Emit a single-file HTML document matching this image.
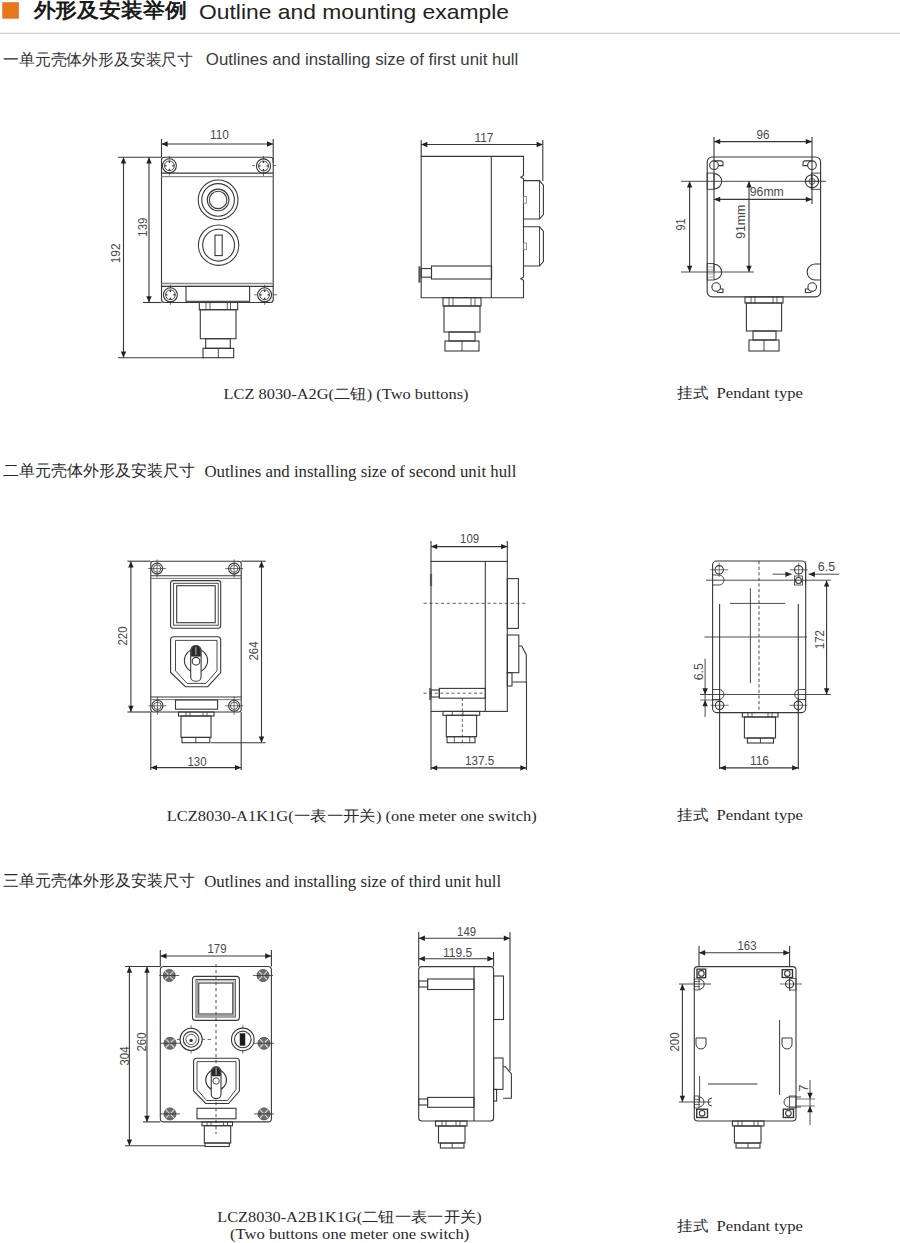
<!DOCTYPE html>
<html><head><meta charset="utf-8"><title>Outline and mounting example</title>
<style>html,body{margin:0;padding:0;background:#fff;}body{width:900px;height:1243px;overflow:hidden;position:relative;font-family:"Liberation Sans",sans-serif;}svg{position:absolute;left:0;top:0;display:block;}</style>
</head><body>
<svg width="900" height="1243" viewBox="0 0 900 1243">
<rect x="2.2" y="2.2" width="16.7" height="16.5" fill="#E8761E"/>
<text x="33.5" y="17.2" font-family="Liberation Sans" font-size="19.5" text-anchor="start" fill="#1a1a1a" font-weight="bold" textLength="153" lengthAdjust="spacingAndGlyphs">外形及安装举例</text>
<text x="199" y="19" font-family="Liberation Sans" font-size="21" text-anchor="start" fill="#222" font-weight="normal" textLength="310" lengthAdjust="spacingAndGlyphs">Outline and mounting example</text>
<rect x="0" y="32.7" width="900" height="1.3" fill="#d0d0d0"/>
<text x="3" y="65.3" font-family="Liberation Sans" font-size="15.5" text-anchor="start" fill="#333" font-weight="normal" textLength="190" lengthAdjust="spacingAndGlyphs">一单元壳体外形及安装尺寸</text>
<text x="205.8" y="65.2" font-family="Liberation Sans" font-size="16" text-anchor="start" fill="#3a3a3a" font-weight="normal" textLength="312.5" lengthAdjust="spacingAndGlyphs">Outlines and installing size of first unit hull</text>
<rect x="161.5" y="157.3" width="111.7" height="145.2" rx="3" stroke="#383838" stroke-width="1.1" fill="none"/>
<line x1="161.5" y1="173.1" x2="273.2" y2="173.1" stroke="#383838" stroke-width="1.1"/>
<line x1="161.5" y1="176.7" x2="273.2" y2="176.7" stroke="#8a8a8a" stroke-width="1.3"/>
<line x1="161.5" y1="283.5" x2="273.2" y2="283.5" stroke="#8a8a8a" stroke-width="1.3"/>
<line x1="161.5" y1="286.4" x2="273.2" y2="286.4" stroke="#383838" stroke-width="1.1"/>
<circle cx="169.4" cy="165.8" r="7" stroke="#383838" stroke-width="1.1" fill="none"/>
<circle cx="169.4" cy="165.8" r="4.9" stroke="#383838" stroke-width="0.9" fill="none"/>
<line x1="169.4" y1="160.9" x2="169.4" y2="162.9" stroke="#383838" stroke-width="1.3"/>
<line x1="169.4" y1="170.7" x2="169.4" y2="168.7" stroke="#383838" stroke-width="1.3"/>
<line x1="164.5" y1="165.8" x2="166.5" y2="165.8" stroke="#383838" stroke-width="1.3"/>
<line x1="174.3" y1="165.8" x2="172.3" y2="165.8" stroke="#383838" stroke-width="1.3"/>
<line x1="169.4" y1="155.8" x2="169.4" y2="159.3" stroke="#383838" stroke-width="0.7"/>
<line x1="169.4" y1="172.3" x2="169.4" y2="175.8" stroke="#383838" stroke-width="0.7"/>
<circle cx="263.5" cy="166" r="7.1" stroke="#383838" stroke-width="1.1" fill="none"/>
<circle cx="263.5" cy="166" r="5" stroke="#383838" stroke-width="0.9" fill="none"/>
<line x1="263.5" y1="161" x2="263.5" y2="163" stroke="#383838" stroke-width="1.3"/>
<line x1="263.5" y1="171" x2="263.5" y2="169" stroke="#383838" stroke-width="1.3"/>
<line x1="258.5" y1="166" x2="260.5" y2="166" stroke="#383838" stroke-width="1.3"/>
<line x1="268.5" y1="166" x2="266.5" y2="166" stroke="#383838" stroke-width="1.3"/>
<line x1="263.5" y1="155.9" x2="263.5" y2="159.4" stroke="#383838" stroke-width="0.7"/>
<line x1="263.5" y1="172.6" x2="263.5" y2="176.1" stroke="#383838" stroke-width="0.7"/>
<line x1="252" y1="165.6" x2="255" y2="165.6" stroke="#383838" stroke-width="0.7"/>
<line x1="273" y1="165.6" x2="276" y2="165.6" stroke="#383838" stroke-width="0.7"/>
<circle cx="170.4" cy="294.8" r="7" stroke="#383838" stroke-width="1.1" fill="none"/>
<circle cx="170.4" cy="294.8" r="4.9" stroke="#383838" stroke-width="0.9" fill="none"/>
<line x1="170.4" y1="289.9" x2="170.4" y2="291.9" stroke="#383838" stroke-width="1.3"/>
<line x1="170.4" y1="299.7" x2="170.4" y2="297.7" stroke="#383838" stroke-width="1.3"/>
<line x1="165.5" y1="294.8" x2="167.5" y2="294.8" stroke="#383838" stroke-width="1.3"/>
<line x1="175.3" y1="294.8" x2="173.3" y2="294.8" stroke="#383838" stroke-width="1.3"/>
<line x1="170.4" y1="284.8" x2="170.4" y2="288.3" stroke="#383838" stroke-width="0.7"/>
<line x1="170.4" y1="301.3" x2="170.4" y2="304.8" stroke="#383838" stroke-width="0.7"/>
<circle cx="264.6" cy="294.8" r="7" stroke="#383838" stroke-width="1.1" fill="none"/>
<circle cx="264.6" cy="294.8" r="4.9" stroke="#383838" stroke-width="0.9" fill="none"/>
<line x1="264.6" y1="289.9" x2="264.6" y2="291.9" stroke="#383838" stroke-width="1.3"/>
<line x1="264.6" y1="299.7" x2="264.6" y2="297.7" stroke="#383838" stroke-width="1.3"/>
<line x1="259.7" y1="294.8" x2="261.7" y2="294.8" stroke="#383838" stroke-width="1.3"/>
<line x1="269.5" y1="294.8" x2="267.5" y2="294.8" stroke="#383838" stroke-width="1.3"/>
<line x1="264.6" y1="284.8" x2="264.6" y2="288.3" stroke="#383838" stroke-width="0.7"/>
<line x1="264.6" y1="301.3" x2="264.6" y2="304.8" stroke="#383838" stroke-width="0.7"/>
<line x1="254" y1="294.8" x2="257" y2="294.8" stroke="#383838" stroke-width="0.7"/>
<line x1="273" y1="294.8" x2="277" y2="294.8" stroke="#383838" stroke-width="0.7"/>
<circle cx="218.1" cy="199.9" r="19.9" stroke="#383838" stroke-width="1.1" fill="none"/>
<circle cx="218.1" cy="199.9" r="16.3" stroke="#383838" stroke-width="1.1" fill="none"/>
<circle cx="218.1" cy="199.9" r="10.8" stroke="#383838" stroke-width="1.1" fill="none"/>
<circle cx="218.1" cy="199.9" r="8.7" stroke="#383838" stroke-width="1.1" fill="none"/>
<circle cx="218.6" cy="245.2" r="20.2" stroke="#383838" stroke-width="1.1" fill="none"/>
<circle cx="218.6" cy="245.2" r="15.9" stroke="#383838" stroke-width="1.1" fill="none"/>
<rect x="215" y="235.1" width="7.2" height="20.5" rx="0" stroke="#383838" stroke-width="1.1" fill="none"/>
<rect x="186" y="286.4" width="63.6" height="14.9" rx="0" stroke="#383838" stroke-width="1.1" fill="none"/>
<rect x="199.3" y="302.5" width="38.4" height="7.2" rx="0" stroke="#383838" stroke-width="1.1" fill="none"/>
<line x1="206" y1="302.5" x2="206" y2="309.7" stroke="#383838" stroke-width="0.8"/>
<line x1="210" y1="302.5" x2="210" y2="309.7" stroke="#383838" stroke-width="0.8"/>
<line x1="227.3" y1="302.5" x2="227.3" y2="309.7" stroke="#383838" stroke-width="0.8"/>
<line x1="230.5" y1="302.5" x2="230.5" y2="309.7" stroke="#383838" stroke-width="0.8"/>
<rect x="200.3" y="309.7" width="35.7" height="29" rx="0" stroke="#383838" stroke-width="1.1" fill="none"/>
<rect x="205.7" y="338.7" width="24.6" height="9.6" rx="0" stroke="#383838" stroke-width="1.1" fill="none"/>
<rect x="203" y="348.3" width="30.7" height="9.4" rx="0" stroke="#383838" stroke-width="1.1" fill="none"/>
<line x1="218.35" y1="348.3" x2="218.35" y2="357.7" stroke="#383838" stroke-width="0.9"/>
<line x1="161.5" y1="144" x2="273.2" y2="144" stroke="#383838" stroke-width="1.1"/>
<path d="M161.5 144L167.7 141.3L167.7 146.7Z" fill="#222"/>
<path d="M273.2 144L267 146.7L267 141.3Z" fill="#222"/>
<text x="219.5" y="139.43" font-family="Liberation Sans" font-size="12.3" text-anchor="middle" fill="#4a4a4a" font-weight="normal" textLength="19" lengthAdjust="spacingAndGlyphs">110</text>
<line x1="161.5" y1="139" x2="161.5" y2="157.3" stroke="#383838" stroke-width="1.1"/>
<line x1="273.2" y1="139" x2="273.2" y2="163" stroke="#383838" stroke-width="1.1"/>
<line x1="149" y1="157.3" x2="149" y2="302.5" stroke="#383838" stroke-width="1.1"/>
<path d="M149 157.3L151.7 163.5L146.3 163.5Z" fill="#222"/>
<path d="M149 302.5L146.3 296.3L151.7 296.3Z" fill="#222"/>
<g transform="translate(142.3 227.2) rotate(-90)"><text x="0" y="4.43" font-family="Liberation Sans" font-size="12.3" text-anchor="middle" fill="#4a4a4a" textLength="19" lengthAdjust="spacingAndGlyphs">139</text></g>
<line x1="123.5" y1="157.3" x2="123.5" y2="357.7" stroke="#383838" stroke-width="1.1"/>
<path d="M123.5 157.3L126.2 163.5L120.8 163.5Z" fill="#222"/>
<path d="M123.5 357.7L120.8 351.5L126.2 351.5Z" fill="#222"/>
<g transform="translate(115.7 253.3) rotate(-90)"><text x="0" y="4.43" font-family="Liberation Sans" font-size="12.3" text-anchor="middle" fill="#4a4a4a" textLength="20" lengthAdjust="spacingAndGlyphs">192</text></g>
<line x1="118" y1="157.3" x2="161.5" y2="157.3" stroke="#383838" stroke-width="1.1"/>
<line x1="143" y1="302.5" x2="161.5" y2="302.5" stroke="#383838" stroke-width="1.1"/>
<line x1="118" y1="357.7" x2="204" y2="357.7" stroke="#383838" stroke-width="1.1"/>
<path d="M421.2 156.4 H523.5 V175.5 l-2.7 1.7 l2.7 1.7 V277 l-2.7 1.7 l2.7 1.7 V297.7 H421.2 Z" stroke="#383838" stroke-width="1.1" fill="none"/>
<line x1="491.3" y1="156.4" x2="491.3" y2="297.7" stroke="#383838" stroke-width="1.1"/>
<path d="M523.5 180.6 H539.5 L543.4 185.1 V214.5 L539.5 219 H523.5" stroke="#383838" stroke-width="1.1" fill="none"/>
<line x1="539.5" y1="180.6" x2="539.5" y2="219" stroke="#383838" stroke-width="0.9"/>
<rect x="523.5" y="196.4" width="3" height="6.8" rx="0" stroke="#777" stroke-width="0.8" fill="none"/>
<path d="M523.5 226.7 H539.5 L543.4 231.2 V261.5 L539.5 266 H523.5" stroke="#383838" stroke-width="1.1" fill="none"/>
<line x1="539.5" y1="226.7" x2="539.5" y2="266" stroke="#383838" stroke-width="0.9"/>
<rect x="523.5" y="242.95" width="3" height="6.8" rx="0" stroke="#777" stroke-width="0.8" fill="none"/>
<rect x="431.5" y="266" width="60.1" height="13" rx="0" stroke="#383838" stroke-width="1.1" fill="none"/>
<rect x="421.2" y="268.6" width="10.3" height="8.6" rx="0" stroke="#383838" stroke-width="1.1" fill="none"/>
<line x1="419.5" y1="266.3" x2="419.5" y2="282.6" stroke="#555" stroke-width="2.2"/>
<rect x="443" y="297.7" width="38" height="8.3" rx="0" stroke="#383838" stroke-width="1.1" fill="none"/>
<line x1="449" y1="297.7" x2="449" y2="306" stroke="#383838" stroke-width="0.8"/>
<line x1="453" y1="297.7" x2="453" y2="306" stroke="#383838" stroke-width="0.8"/>
<line x1="471" y1="297.7" x2="471" y2="306" stroke="#383838" stroke-width="0.8"/>
<line x1="475" y1="297.7" x2="475" y2="306" stroke="#383838" stroke-width="0.8"/>
<rect x="444" y="306" width="36" height="26" rx="0" stroke="#383838" stroke-width="1.1" fill="none"/>
<rect x="449" y="332" width="26" height="9" rx="0" stroke="#383838" stroke-width="1.1" fill="none"/>
<rect x="445" y="341" width="34" height="10" rx="0" stroke="#383838" stroke-width="1.1" fill="none"/>
<line x1="462" y1="341" x2="462" y2="351" stroke="#383838" stroke-width="0.9"/>
<line x1="421.2" y1="144.5" x2="542.8" y2="144.5" stroke="#383838" stroke-width="1.1"/>
<path d="M421.2 144.5L427.4 141.8L427.4 147.2Z" fill="#222"/>
<path d="M542.8 144.5L536.6 147.2L536.6 141.8Z" fill="#222"/>
<text x="484" y="141.93" font-family="Liberation Sans" font-size="12.3" text-anchor="middle" fill="#4a4a4a" font-weight="normal" textLength="19" lengthAdjust="spacingAndGlyphs">117</text>
<line x1="421.2" y1="140" x2="421.2" y2="156.4" stroke="#383838" stroke-width="1.1"/>
<line x1="542.8" y1="140" x2="542.8" y2="181" stroke="#383838" stroke-width="1.1"/>
<rect x="707.2" y="157" width="113.4" height="139.9" rx="5" stroke="#383838" stroke-width="1.1" fill="none"/>
<line x1="714" y1="141.6" x2="812" y2="141.6" stroke="#383838" stroke-width="1.1"/>
<path d="M714 141.6L720.2 138.9L720.2 144.3Z" fill="#222"/>
<path d="M812 141.6L805.8 144.3L805.8 138.9Z" fill="#222"/>
<text x="763" y="138.93" font-family="Liberation Sans" font-size="12.3" text-anchor="middle" fill="#4a4a4a" font-weight="normal" textLength="13" lengthAdjust="spacingAndGlyphs">96</text>
<line x1="714" y1="137" x2="714" y2="271" stroke="#383838" stroke-width="1.1"/>
<line x1="812" y1="137" x2="812" y2="204" stroke="#383838" stroke-width="1.1"/>
<rect x="707.2" y="173.1" width="6.8" height="16.2" rx="0" stroke="#383838" stroke-width="0.9" fill="none"/>
<path d="M714 173.6 a7.7 7.7 0 0 1 0 15.4" stroke="#383838" stroke-width="1.1" fill="none"/>
<rect x="811.3" y="173.1" width="9.3" height="16.2" rx="0" stroke="#383838" stroke-width="0.9" fill="none"/>
<circle cx="812" cy="181.3" r="6.6" stroke="#383838" stroke-width="1.1" fill="none"/>
<circle cx="812" cy="181.3" r="3" stroke="#383838" stroke-width="0.8" fill="none"/>
<line x1="806" y1="181.3" x2="818" y2="181.3" stroke="#383838" stroke-width="0.7"/>
<line x1="812" y1="175" x2="812" y2="188" stroke="#383838" stroke-width="0.7"/>
<rect x="707.2" y="263.6" width="6.8" height="16.4" rx="0" stroke="#383838" stroke-width="0.9" fill="none"/>
<line x1="707.2" y1="267" x2="714" y2="267" stroke="#777" stroke-width="0.6"/>
<line x1="707.2" y1="270" x2="714" y2="270" stroke="#777" stroke-width="0.6"/>
<line x1="707.2" y1="274" x2="714" y2="274" stroke="#777" stroke-width="0.6"/>
<line x1="707.2" y1="277" x2="714" y2="277" stroke="#777" stroke-width="0.6"/>
<path d="M714 264.3 a7.7 7.7 0 0 1 0 15.4" stroke="#383838" stroke-width="1.1" fill="none"/>
<path d="M820.6 264 h-5.5 a8 8 0 0 0 0 16 h5.5" stroke="#383838" stroke-width="1.1" fill="none"/>
<line x1="681" y1="181.3" x2="826" y2="181.3" stroke="#383838" stroke-width="0.9"/>
<line x1="681" y1="272" x2="754" y2="272" stroke="#383838" stroke-width="0.9"/>
<line x1="689.6" y1="181.3" x2="689.6" y2="272" stroke="#383838" stroke-width="1.1"/>
<path d="M689.6 181.3L692.3 187.5L686.9 187.5Z" fill="#222"/>
<path d="M689.6 272L686.9 265.8L692.3 265.8Z" fill="#222"/>
<g transform="translate(681 224.5) rotate(-90)"><text x="0" y="4.43" font-family="Liberation Sans" font-size="12.3" text-anchor="middle" fill="#4a4a4a" textLength="12" lengthAdjust="spacingAndGlyphs">91</text></g>
<line x1="749" y1="181.3" x2="749" y2="272" stroke="#383838" stroke-width="1.1"/>
<path d="M749 181.3L751.7 187.5L746.3 187.5Z" fill="#222"/>
<path d="M749 272L746.3 265.8L751.7 265.8Z" fill="#222"/>
<g transform="translate(741 221.8) rotate(-90)"><text x="0" y="4.43" font-family="Liberation Sans" font-size="12.3" text-anchor="middle" fill="#4a4a4a" textLength="34" lengthAdjust="spacingAndGlyphs">91mm</text></g>
<line x1="714" y1="199.4" x2="812" y2="199.4" stroke="#383838" stroke-width="1.1"/>
<path d="M714 199.4L720.2 196.7L720.2 202.1Z" fill="#222"/>
<path d="M812 199.4L805.8 202.1L805.8 196.7Z" fill="#222"/>
<text x="766.8" y="195.93" font-family="Liberation Sans" font-size="12.3" text-anchor="middle" fill="#4a4a4a" font-weight="normal" textLength="34" lengthAdjust="spacingAndGlyphs">96mm</text>
<circle cx="714" cy="165.2" r="4.3" stroke="#383838" stroke-width="1.1" fill="none"/>
<path d="M714 160.9 h7.5 l1.5 1.2 v3.5 h-5" stroke="#383838" stroke-width="1.1" fill="none"/>
<circle cx="812" cy="165.2" r="4.3" stroke="#383838" stroke-width="1.1" fill="none"/>
<path d="M812 160.9 h-7.5 l-1.5 1.2 v3.5 h5" stroke="#383838" stroke-width="1.1" fill="none"/>
<circle cx="716.2" cy="287.1" r="4.3" stroke="#383838" stroke-width="1.1" fill="none"/>
<path d="M720 289 h3 v3.5 h-6" stroke="#383838" stroke-width="1.1" fill="none"/>
<circle cx="812.2" cy="287.1" r="4.3" stroke="#383838" stroke-width="1.1" fill="none"/>
<path d="M808.4 289 h-3 v3.5 h6" stroke="#383838" stroke-width="1.1" fill="none"/>
<rect x="745" y="296.9" width="38" height="6.1" rx="0" stroke="#383838" stroke-width="1.1" fill="none"/>
<line x1="751" y1="296.9" x2="751" y2="303" stroke="#383838" stroke-width="0.8"/>
<line x1="755" y1="296.9" x2="755" y2="303" stroke="#383838" stroke-width="0.8"/>
<line x1="773" y1="296.9" x2="773" y2="303" stroke="#383838" stroke-width="0.8"/>
<line x1="777" y1="296.9" x2="777" y2="303" stroke="#383838" stroke-width="0.8"/>
<rect x="746.4" y="303" width="35.2" height="28" rx="0" stroke="#383838" stroke-width="1.1" fill="none"/>
<rect x="753" y="331" width="23" height="9" rx="0" stroke="#383838" stroke-width="1.1" fill="none"/>
<rect x="749" y="340" width="30" height="11" rx="0" stroke="#383838" stroke-width="1.1" fill="none"/>
<line x1="764" y1="340" x2="764" y2="351" stroke="#383838" stroke-width="0.9"/>
<text x="223.5" y="399" font-family="Liberation Serif" font-size="15" text-anchor="start" fill="#2a2a2a" font-weight="normal" textLength="245" lengthAdjust="spacingAndGlyphs">LCZ 8030-A2G(二钮) (Two buttons)</text>
<text x="677" y="398" font-family="Liberation Serif" font-size="15" text-anchor="start" fill="#2a2a2a" font-weight="normal" textLength="31" lengthAdjust="spacingAndGlyphs">挂式</text>
<text x="716.5" y="398" font-family="Liberation Serif" font-size="15" text-anchor="start" fill="#2a2a2a" font-weight="normal" textLength="86.5" lengthAdjust="spacingAndGlyphs">Pendant type</text>
<text x="3" y="475.8" font-family="Liberation Serif" font-size="15.5" text-anchor="start" fill="#2a2a2a" font-weight="normal" textLength="192" lengthAdjust="spacingAndGlyphs">二单元壳体外形及安装尺寸</text>
<text x="204.4" y="476.6" font-family="Liberation Serif" font-size="16.5" text-anchor="start" fill="#2a2a2a" font-weight="normal" textLength="312" lengthAdjust="spacingAndGlyphs">Outlines and installing size of second unit hull</text>
<rect x="150.8" y="561.2" width="90.4" height="150.8" rx="2.5" stroke="#383838" stroke-width="1.1" fill="none"/>
<line x1="150.8" y1="575.7" x2="241.2" y2="575.7" stroke="#383838" stroke-width="1.1"/>
<line x1="150.8" y1="578.4" x2="241.2" y2="578.4" stroke="#666" stroke-width="0.9"/>
<line x1="150.8" y1="697" x2="241.2" y2="697" stroke="#383838" stroke-width="1.1"/>
<line x1="150.8" y1="699.6" x2="241.2" y2="699.6" stroke="#666" stroke-width="0.9"/>
<circle cx="157.1" cy="568.6" r="5.5" stroke="#383838" stroke-width="1.1" fill="none"/>
<circle cx="157.1" cy="568.6" r="3.7" stroke="#383838" stroke-width="0.8" fill="none"/>
<line x1="148.1" y1="568.6" x2="166.1" y2="568.6" stroke="#383838" stroke-width="0.7"/>
<line x1="157.1" y1="559.6" x2="157.1" y2="577.6" stroke="#383838" stroke-width="0.7"/>
<circle cx="234.1" cy="568.6" r="5.5" stroke="#383838" stroke-width="1.1" fill="none"/>
<circle cx="234.1" cy="568.6" r="3.7" stroke="#383838" stroke-width="0.8" fill="none"/>
<line x1="225.1" y1="568.6" x2="243.1" y2="568.6" stroke="#383838" stroke-width="0.7"/>
<line x1="234.1" y1="559.6" x2="234.1" y2="577.6" stroke="#383838" stroke-width="0.7"/>
<circle cx="157.5" cy="705.8" r="5.5" stroke="#383838" stroke-width="1.1" fill="none"/>
<circle cx="157.5" cy="705.8" r="3.7" stroke="#383838" stroke-width="0.8" fill="none"/>
<line x1="148.5" y1="705.8" x2="166.5" y2="705.8" stroke="#383838" stroke-width="0.7"/>
<line x1="157.5" y1="696.8" x2="157.5" y2="714.8" stroke="#383838" stroke-width="0.7"/>
<circle cx="234.1" cy="705.8" r="5.5" stroke="#383838" stroke-width="1.1" fill="none"/>
<circle cx="234.1" cy="705.8" r="3.7" stroke="#383838" stroke-width="0.8" fill="none"/>
<line x1="225.1" y1="705.8" x2="243.1" y2="705.8" stroke="#383838" stroke-width="0.7"/>
<line x1="234.1" y1="696.8" x2="234.1" y2="714.8" stroke="#383838" stroke-width="0.7"/>
<rect x="170.6" y="580.6" width="50.1" height="47.6" rx="2.5" stroke="#383838" stroke-width="1.1" fill="none"/>
<rect x="173.6" y="583.3" width="44.6" height="41.9" rx="0" stroke="#383838" stroke-width="0.9" fill="none"/>
<rect x="176.7" y="585.7" width="38.5" height="37" rx="0" stroke="#383838" stroke-width="1.1" fill="none"/>
<path d="M170.6 639.7 Q170.6 636.7 173.6 636.7 H217.7 Q220.7 636.7 220.7 639.7 V672.5 L207.7 686.7 H185.5 L170.6 672.5 Z" stroke="#383838" stroke-width="1.1" fill="none"/>
<path d="M175.5 640.4 H217 V670.8 L206 683.4 H187 L175.5 670.8 Z" stroke="#383838" stroke-width="0.9" fill="none"/>
<circle cx="196" cy="660.6" r="11.6" stroke="#383838" stroke-width="1.1" fill="none"/>
<rect x="190.7" y="645.9" width="10.4" height="35.4" rx="4.5" stroke="#383838" stroke-width="1.1" fill="#fff"/>
<path d="M191.2 656.3 V650.5 A4.5 4.5 0 0 1 200.6 650.5 V656.3 Z" stroke="#383838" stroke-width="0.6" fill="#2a2a2a"/>
<line x1="195.9" y1="647" x2="195.9" y2="655" stroke="#ddd" stroke-width="0.8"/>
<circle cx="196" cy="661.2" r="3.8" stroke="#383838" stroke-width="1.1" fill="none"/>
<rect x="175.5" y="700" width="42.1" height="9.2" rx="0" stroke="#383838" stroke-width="1.1" fill="none"/>
<rect x="178.5" y="712" width="35.5" height="4" rx="0" stroke="#383838" stroke-width="1.1" fill="none"/>
<line x1="186" y1="712" x2="186" y2="716" stroke="#383838" stroke-width="0.8"/>
<line x1="190" y1="712" x2="190" y2="716" stroke="#383838" stroke-width="0.8"/>
<line x1="203" y1="712" x2="203" y2="716" stroke="#383838" stroke-width="0.8"/>
<line x1="207" y1="712" x2="207" y2="716" stroke="#383838" stroke-width="0.8"/>
<rect x="181" y="716" width="30" height="21.4" rx="0" stroke="#383838" stroke-width="1.1" fill="none"/>
<rect x="182" y="737.4" width="27.8" height="5.3" rx="0" stroke="#383838" stroke-width="1.1" fill="none"/>
<line x1="195.9" y1="737.4" x2="195.9" y2="742.7" stroke="#383838" stroke-width="0.9"/>
<line x1="130.9" y1="561.2" x2="130.9" y2="712" stroke="#383838" stroke-width="1.1"/>
<path d="M130.9 561.2L133.6 567.4L128.2 567.4Z" fill="#222"/>
<path d="M130.9 712L128.2 705.8L133.6 705.8Z" fill="#222"/>
<g transform="translate(122.5 636) rotate(-90)"><text x="0" y="4.43" font-family="Liberation Sans" font-size="12.3" text-anchor="middle" fill="#4a4a4a" textLength="19" lengthAdjust="spacingAndGlyphs">220</text></g>
<line x1="127.4" y1="561.2" x2="150.8" y2="561.2" stroke="#383838" stroke-width="1.1"/>
<line x1="127.4" y1="712" x2="150.8" y2="712" stroke="#383838" stroke-width="1.1"/>
<line x1="261.5" y1="561.2" x2="261.5" y2="742.7" stroke="#383838" stroke-width="1.1"/>
<path d="M261.5 561.2L264.2 567.4L258.8 567.4Z" fill="#222"/>
<path d="M261.5 742.7L258.8 736.5L264.2 736.5Z" fill="#222"/>
<g transform="translate(253.7 651) rotate(-90)"><text x="0" y="4.43" font-family="Liberation Sans" font-size="12.3" text-anchor="middle" fill="#4a4a4a" textLength="19" lengthAdjust="spacingAndGlyphs">264</text></g>
<line x1="241.2" y1="561.2" x2="265.7" y2="561.2" stroke="#383838" stroke-width="1.1"/>
<line x1="211" y1="742.7" x2="265.7" y2="742.7" stroke="#383838" stroke-width="1.1"/>
<line x1="150.8" y1="767.6" x2="241.2" y2="767.6" stroke="#383838" stroke-width="1.1"/>
<path d="M150.8 767.6L157 764.9L157 770.3Z" fill="#222"/>
<path d="M241.2 767.6L235 770.3L235 764.9Z" fill="#222"/>
<text x="197" y="766.03" font-family="Liberation Sans" font-size="12.3" text-anchor="middle" fill="#4a4a4a" font-weight="normal" textLength="19" lengthAdjust="spacingAndGlyphs">130</text>
<line x1="150.8" y1="712" x2="150.8" y2="770" stroke="#383838" stroke-width="1.1"/>
<line x1="241.2" y1="712" x2="241.2" y2="770" stroke="#383838" stroke-width="1.1"/>
<rect x="431" y="561.4" width="76.3" height="150" rx="0" stroke="#383838" stroke-width="1.1" fill="none"/>
<line x1="485.3" y1="561.4" x2="485.3" y2="711.4" stroke="#383838" stroke-width="1.1"/>
<line x1="423.6" y1="603.3" x2="526" y2="603.3" stroke="#383838" stroke-width="0.8" stroke-dasharray="3.2,2.6"/>
<rect x="507.3" y="578.6" width="11.1" height="49.8" rx="0" stroke="#383838" stroke-width="1.1" fill="none"/>
<rect x="507.3" y="635" width="11.5" height="37.7" rx="0" stroke="#383838" stroke-width="1.1" fill="none"/>
<path d="M518.8 646 H521.7 L526.3 654.7 V682 H512.3" stroke="#383838" stroke-width="1.1" fill="none"/>
<rect x="507.3" y="672.7" width="4.7" height="13.3" rx="0" stroke="#383838" stroke-width="1.1" fill="none"/>
<line x1="431" y1="574" x2="431" y2="586" stroke="#555" stroke-width="2.2"/>
<rect x="439.3" y="688.4" width="46" height="9.8" rx="0" stroke="#383838" stroke-width="1.1" fill="none"/>
<rect x="431" y="690" width="8.3" height="7" rx="0" stroke="#383838" stroke-width="1.1" fill="none"/>
<line x1="430.2" y1="688" x2="430.2" y2="700" stroke="#555" stroke-width="2"/>
<line x1="423.6" y1="693.2" x2="485" y2="693.2" stroke="#383838" stroke-width="0.8" stroke-dasharray="3,2.6"/>
<rect x="443" y="711.4" width="36.7" height="3.9" rx="0" stroke="#383838" stroke-width="1.1" fill="none"/>
<line x1="452.3" y1="711.4" x2="452.3" y2="715.3" stroke="#383838" stroke-width="0.8"/>
<line x1="463" y1="711.4" x2="463" y2="715.3" stroke="#383838" stroke-width="0.8"/>
<rect x="446.3" y="715.3" width="30.3" height="21.4" rx="0" stroke="#383838" stroke-width="1.1" fill="none"/>
<rect x="447" y="736.7" width="28" height="6" rx="0" stroke="#383838" stroke-width="1.1" fill="none"/>
<line x1="454.3" y1="736.7" x2="454.3" y2="742.7" stroke="#383838" stroke-width="0.8"/>
<line x1="469.7" y1="736.7" x2="469.7" y2="742.7" stroke="#383838" stroke-width="0.8"/>
<line x1="462.3" y1="698" x2="462.3" y2="745" stroke="#383838" stroke-width="0.8" stroke-dasharray="3,2.2"/>
<line x1="431" y1="546.6" x2="507.3" y2="546.6" stroke="#383838" stroke-width="1.1"/>
<path d="M431 546.6L437.2 543.9L437.2 549.3Z" fill="#222"/>
<path d="M507.3 546.6L501.1 549.3L501.1 543.9Z" fill="#222"/>
<text x="469.6" y="543.43" font-family="Liberation Sans" font-size="12.3" text-anchor="middle" fill="#4a4a4a" font-weight="normal" textLength="19" lengthAdjust="spacingAndGlyphs">109</text>
<line x1="431" y1="541" x2="431" y2="561.4" stroke="#383838" stroke-width="1.1"/>
<line x1="507.3" y1="541" x2="507.3" y2="561.4" stroke="#383838" stroke-width="1.1"/>
<line x1="431" y1="767.9" x2="526.5" y2="767.9" stroke="#383838" stroke-width="1.1"/>
<path d="M431 767.9L437.2 765.2L437.2 770.6Z" fill="#222"/>
<path d="M526.5 767.9L520.3 770.6L520.3 765.2Z" fill="#222"/>
<text x="479.7" y="764.83" font-family="Liberation Sans" font-size="12.3" text-anchor="middle" fill="#4a4a4a" font-weight="normal" textLength="29.3" lengthAdjust="spacingAndGlyphs">137.5</text>
<line x1="431" y1="711.4" x2="431" y2="770" stroke="#383838" stroke-width="1.1"/>
<line x1="526.5" y1="682" x2="526.5" y2="770" stroke="#383838" stroke-width="1.1"/>
<rect x="712.6" y="561" width="93.1" height="151.6" rx="4" stroke="#383838" stroke-width="1.1" fill="none"/>
<line x1="759" y1="561" x2="759" y2="712.6" stroke="#383838" stroke-width="0.9" stroke-dasharray="3.2,2.4"/>
<line x1="706" y1="580.2" x2="830.8" y2="580.2" stroke="#383838" stroke-width="0.9"/>
<line x1="700" y1="694.5" x2="830.8" y2="694.5" stroke="#383838" stroke-width="0.9"/>
<line x1="826.6" y1="580.4" x2="826.6" y2="694.5" stroke="#383838" stroke-width="1.1"/>
<path d="M826.6 580.4L829.3 586.6L823.9 586.6Z" fill="#222"/>
<path d="M826.6 694.5L823.9 688.3L829.3 688.3Z" fill="#222"/>
<g transform="translate(819.5 639.6) rotate(-90)"><text x="0" y="4.43" font-family="Liberation Sans" font-size="12.3" text-anchor="middle" fill="#4a4a4a" textLength="19" lengthAdjust="spacingAndGlyphs">172</text></g>
<line x1="719.6" y1="604" x2="719.6" y2="769" stroke="#383838" stroke-width="1.1"/>
<line x1="798.3" y1="604" x2="798.3" y2="769" stroke="#383838" stroke-width="1.1"/>
<line x1="719.6" y1="767.9" x2="798.3" y2="767.9" stroke="#383838" stroke-width="1.1"/>
<path d="M719.6 767.9L725.8 765.2L725.8 770.6Z" fill="#222"/>
<path d="M798.3 767.9L792.1 770.6L792.1 765.2Z" fill="#222"/>
<text x="759.4" y="764.63" font-family="Liberation Sans" font-size="12.3" text-anchor="middle" fill="#4a4a4a" font-weight="normal" textLength="19" lengthAdjust="spacingAndGlyphs">116</text>
<line x1="730" y1="603.4" x2="785" y2="603.4" stroke="#383838" stroke-width="0.9"/>
<line x1="750.4" y1="588.3" x2="750.4" y2="683.2" stroke="#383838" stroke-width="0.9"/>
<line x1="704.5" y1="637" x2="807" y2="637" stroke="#383838" stroke-width="0.9"/>
<circle cx="719.2" cy="569.8" r="4.2" stroke="#383838" stroke-width="1.1" fill="none"/>
<line x1="710.2" y1="569.8" x2="728.2" y2="569.8" stroke="#383838" stroke-width="0.7"/>
<line x1="719.2" y1="562.8" x2="719.2" y2="576.8" stroke="#383838" stroke-width="0.7"/>
<circle cx="798.7" cy="569.8" r="4.2" stroke="#383838" stroke-width="1.1" fill="none"/>
<line x1="789.7" y1="569.8" x2="807.7" y2="569.8" stroke="#383838" stroke-width="0.7"/>
<line x1="798.7" y1="562.8" x2="798.7" y2="576.8" stroke="#383838" stroke-width="0.7"/>
<circle cx="719.6" cy="705.3" r="4.2" stroke="#383838" stroke-width="1.1" fill="none"/>
<line x1="710.6" y1="705.3" x2="728.6" y2="705.3" stroke="#383838" stroke-width="0.7"/>
<line x1="719.6" y1="698.3" x2="719.6" y2="712.3" stroke="#383838" stroke-width="0.7"/>
<circle cx="798.3" cy="705.3" r="4.2" stroke="#383838" stroke-width="1.1" fill="none"/>
<line x1="789.3" y1="705.3" x2="807.3" y2="705.3" stroke="#383838" stroke-width="0.7"/>
<line x1="798.3" y1="698.3" x2="798.3" y2="712.3" stroke="#383838" stroke-width="0.7"/>
<path d="M713 575 h6 a5 5 0 0 1 0 10 h-6" stroke="#383838" stroke-width="0.9" fill="none"/>
<rect x="794.5" y="576" width="8" height="9" rx="0" stroke="#383838" stroke-width="0.8" fill="none"/>
<circle cx="798.5" cy="580.5" r="3" stroke="#383838" stroke-width="1.1" fill="none"/>
<path d="M713 689.5 h6 a5 5 0 0 1 0 10 h-6" stroke="#383838" stroke-width="0.9" fill="none"/>
<path d="M805.7 689.5 h-6 a5 5 0 0 0 0 10 h6" stroke="#383838" stroke-width="0.9" fill="none"/>
<line x1="772.5" y1="574.2" x2="791.6" y2="574.2" stroke="#383838" stroke-width="0.9"/>
<path d="M791.6 574.2L785.4 576.9L785.4 571.5Z" fill="#222"/>
<line x1="839" y1="574.2" x2="808.7" y2="574.2" stroke="#383838" stroke-width="0.9"/>
<path d="M808.7 574.2L814.9 571.5L814.9 576.9Z" fill="#222"/>
<line x1="805.7" y1="561" x2="805.7" y2="585" stroke="#383838" stroke-width="0.7"/>
<text x="826.5" y="571.23" font-family="Liberation Sans" font-size="12.3" text-anchor="middle" fill="#4a4a4a" font-weight="normal" textLength="17.3" lengthAdjust="spacingAndGlyphs">6.5</text>
<line x1="705.1" y1="658.7" x2="705.1" y2="717" stroke="#383838" stroke-width="0.9"/>
<path d="M705.1 694.5L702.4 688.3L707.8 688.3Z" fill="#222"/>
<path d="M705.1 700L707.8 706.2L702.4 706.2Z" fill="#222"/>
<line x1="700" y1="700" x2="720" y2="700" stroke="#383838" stroke-width="0.7"/>
<g transform="translate(699 671.7) rotate(-90)"><text x="0" y="4.43" font-family="Liberation Sans" font-size="12.3" text-anchor="middle" fill="#4a4a4a" textLength="17" lengthAdjust="spacingAndGlyphs">6.5</text></g>
<rect x="742.3" y="712.6" width="35.7" height="4.4" rx="0" stroke="#383838" stroke-width="1.1" fill="none"/>
<line x1="748" y1="712.6" x2="748" y2="717" stroke="#383838" stroke-width="0.8"/>
<line x1="752" y1="712.6" x2="752" y2="717" stroke="#383838" stroke-width="0.8"/>
<line x1="768" y1="712.6" x2="768" y2="717" stroke="#383838" stroke-width="0.8"/>
<line x1="772" y1="712.6" x2="772" y2="717" stroke="#383838" stroke-width="0.8"/>
<rect x="744.4" y="717" width="31.1" height="21" rx="0" stroke="#383838" stroke-width="1.1" fill="none"/>
<rect x="747.4" y="738" width="26.1" height="5" rx="0" stroke="#383838" stroke-width="1.1" fill="none"/>
<line x1="760.45" y1="738" x2="760.45" y2="743" stroke="#383838" stroke-width="0.9"/>
<text x="166.7" y="821" font-family="Liberation Serif" font-size="15" text-anchor="start" fill="#2a2a2a" font-weight="normal" textLength="370" lengthAdjust="spacingAndGlyphs">LCZ8030-A1K1G(一表一开关) (one meter one switch)</text>
<text x="677" y="819.9" font-family="Liberation Serif" font-size="15" text-anchor="start" fill="#2a2a2a" font-weight="normal" textLength="31" lengthAdjust="spacingAndGlyphs">挂式</text>
<text x="716.5" y="819.9" font-family="Liberation Serif" font-size="15" text-anchor="start" fill="#2a2a2a" font-weight="normal" textLength="86.5" lengthAdjust="spacingAndGlyphs">Pendant type</text>
<text x="3" y="885.8" font-family="Liberation Serif" font-size="15.5" text-anchor="start" fill="#2a2a2a" font-weight="normal" textLength="192" lengthAdjust="spacingAndGlyphs">三单元壳体外形及安装尺寸</text>
<text x="204.2" y="886.6" font-family="Liberation Serif" font-size="16.5" text-anchor="start" fill="#2a2a2a" font-weight="normal" textLength="297" lengthAdjust="spacingAndGlyphs">Outlines and installing size of third unit hull</text>
<rect x="160.3" y="966.5" width="111.1" height="155.4" rx="3.5" stroke="#383838" stroke-width="1.1" fill="none"/>
<line x1="216" y1="964" x2="216" y2="1134" stroke="#383838" stroke-width="0.9" stroke-dasharray="3.2,2.8"/>
<rect x="192.5" y="976.4" width="46.9" height="44" rx="3" stroke="#383838" stroke-width="1.1" fill="none"/>
<rect x="196" y="979.4" width="39.3" height="37.6" rx="0" stroke="#383838" stroke-width="0.9" fill="none"/>
<rect x="197.4" y="980.8" width="36.5" height="34.8" rx="0" stroke="#777" stroke-width="0.7" fill="none"/>
<rect x="198.75" y="983" width="34.05" height="31" rx="0" stroke="#383838" stroke-width="1.1" fill="none"/>
<circle cx="169.2" cy="975.5" r="6" stroke="#555" stroke-width="0.9" fill="#6e6e6e"/>
<line x1="165" y1="971.3" x2="173.4" y2="979.7" stroke="#d8d8d8" stroke-width="1.1"/>
<line x1="165" y1="979.7" x2="173.4" y2="971.3" stroke="#d8d8d8" stroke-width="1.1"/>
<circle cx="169.2" cy="975.5" r="1.6" stroke="#383838" stroke-width="0" fill="#888"/>
<line x1="159.2" y1="975.5" x2="179.2" y2="975.5" stroke="#383838" stroke-width="0.8"/>
<circle cx="263" cy="975.5" r="6" stroke="#555" stroke-width="0.9" fill="#6e6e6e"/>
<line x1="258.8" y1="971.3" x2="267.2" y2="979.7" stroke="#d8d8d8" stroke-width="1.1"/>
<line x1="258.8" y1="979.7" x2="267.2" y2="971.3" stroke="#d8d8d8" stroke-width="1.1"/>
<circle cx="263" cy="975.5" r="1.6" stroke="#383838" stroke-width="0" fill="#888"/>
<line x1="253" y1="975.5" x2="273" y2="975.5" stroke="#383838" stroke-width="0.8"/>
<circle cx="170" cy="1043.3" r="6" stroke="#555" stroke-width="0.9" fill="#6e6e6e"/>
<line x1="165.8" y1="1039.1" x2="174.2" y2="1047.5" stroke="#d8d8d8" stroke-width="1.1"/>
<line x1="165.8" y1="1047.5" x2="174.2" y2="1039.1" stroke="#d8d8d8" stroke-width="1.1"/>
<circle cx="170" cy="1043.3" r="1.6" stroke="#383838" stroke-width="0" fill="#888"/>
<line x1="160" y1="1043.3" x2="180" y2="1043.3" stroke="#383838" stroke-width="0.8"/>
<circle cx="264" cy="1043.3" r="6" stroke="#555" stroke-width="0.9" fill="#6e6e6e"/>
<line x1="259.8" y1="1039.1" x2="268.2" y2="1047.5" stroke="#d8d8d8" stroke-width="1.1"/>
<line x1="259.8" y1="1047.5" x2="268.2" y2="1039.1" stroke="#d8d8d8" stroke-width="1.1"/>
<circle cx="264" cy="1043.3" r="1.6" stroke="#383838" stroke-width="0" fill="#888"/>
<line x1="254" y1="1043.3" x2="274" y2="1043.3" stroke="#383838" stroke-width="0.8"/>
<circle cx="170" cy="1113.9" r="6" stroke="#555" stroke-width="0.9" fill="#6e6e6e"/>
<line x1="165.8" y1="1109.7" x2="174.2" y2="1118.1" stroke="#d8d8d8" stroke-width="1.1"/>
<line x1="165.8" y1="1118.1" x2="174.2" y2="1109.7" stroke="#d8d8d8" stroke-width="1.1"/>
<circle cx="170" cy="1113.9" r="1.6" stroke="#383838" stroke-width="0" fill="#888"/>
<line x1="160" y1="1113.9" x2="180" y2="1113.9" stroke="#383838" stroke-width="0.8"/>
<circle cx="264" cy="1113.9" r="6" stroke="#555" stroke-width="0.9" fill="#6e6e6e"/>
<line x1="259.8" y1="1109.7" x2="268.2" y2="1118.1" stroke="#d8d8d8" stroke-width="1.1"/>
<line x1="259.8" y1="1118.1" x2="268.2" y2="1109.7" stroke="#d8d8d8" stroke-width="1.1"/>
<circle cx="264" cy="1113.9" r="1.6" stroke="#383838" stroke-width="0" fill="#888"/>
<line x1="254" y1="1113.9" x2="274" y2="1113.9" stroke="#383838" stroke-width="0.8"/>
<circle cx="191.1" cy="1039.4" r="11.1" stroke="#383838" stroke-width="1.1" fill="none"/>
<circle cx="191.1" cy="1039.4" r="7.8" stroke="#383838" stroke-width="1.1" fill="none"/>
<circle cx="191.1" cy="1039.4" r="5.2" stroke="#383838" stroke-width="0.8" fill="none"/>
<line x1="191.1" y1="1025.5" x2="191.1" y2="1028.3" stroke="#383838" stroke-width="0.8"/>
<line x1="191.1" y1="1050.5" x2="191.1" y2="1053.3" stroke="#383838" stroke-width="0.8"/>
<line x1="177" y1="1039.4" x2="180" y2="1039.4" stroke="#383838" stroke-width="0.8"/>
<line x1="202" y1="1039.4" x2="205" y2="1039.4" stroke="#383838" stroke-width="0.8"/>
<line x1="207.5" y1="1039.4" x2="211" y2="1039.4" stroke="#383838" stroke-width="0.8"/>
<circle cx="191.1" cy="1040.5" r="1.2" stroke="#383838" stroke-width="1.1" fill="#333"/>
<circle cx="242.8" cy="1039.4" r="11.3" stroke="#383838" stroke-width="1.1" fill="none"/>
<circle cx="242.8" cy="1039.4" r="8.3" stroke="#383838" stroke-width="1.1" fill="none"/>
<rect x="240" y="1033.6" width="5" height="11.8" rx="0" stroke="#383838" stroke-width="0.6" fill="#1a1a1a"/>
<line x1="242.8" y1="1025.3" x2="242.8" y2="1028.1" stroke="#383838" stroke-width="0.8"/>
<line x1="242.8" y1="1050.7" x2="242.8" y2="1053.5" stroke="#383838" stroke-width="0.8"/>
<path d="M193.6 1061.3 Q193.6 1058.3 196.6 1058.3 H236.4 Q239.4 1058.3 239.4 1061.3 V1091 L228.6 1103.5 H205.7 L193.6 1091 Z" stroke="#383838" stroke-width="1.1" fill="none"/>
<path d="M197 1061.6 H236 V1089.6 L227.6 1100.5 H206.7 L197 1089.6 Z" stroke="#383838" stroke-width="0.9" fill="none"/>
<circle cx="216.1" cy="1079.9" r="10.4" stroke="#383838" stroke-width="1.1" fill="none"/>
<rect x="211.25" y="1066.7" width="9.75" height="31.9" rx="4.5" stroke="#383838" stroke-width="1.1" fill="#fff"/>
<path d="M211.75 1076 V1071.2 A4.4 4.4 0 0 1 220.5 1071.2 V1076 Z" stroke="#383838" stroke-width="0.6" fill="#2a2a2a"/>
<line x1="216.1" y1="1068" x2="216.1" y2="1075" stroke="#ddd" stroke-width="0.8"/>
<circle cx="216.1" cy="1081" r="3.2" stroke="#383838" stroke-width="0.9" fill="none"/>
<rect x="197" y="1108.3" width="39" height="10.45" rx="0" stroke="#383838" stroke-width="1.1" fill="none"/>
<rect x="202" y="1121.9" width="30.5" height="3.8" rx="0" stroke="#383838" stroke-width="1.1" fill="none"/>
<line x1="207" y1="1121.9" x2="207" y2="1125.7" stroke="#383838" stroke-width="0.8"/>
<line x1="211" y1="1121.9" x2="211" y2="1125.7" stroke="#383838" stroke-width="0.8"/>
<line x1="223.5" y1="1121.9" x2="223.5" y2="1125.7" stroke="#383838" stroke-width="0.8"/>
<line x1="227.5" y1="1121.9" x2="227.5" y2="1125.7" stroke="#383838" stroke-width="0.8"/>
<rect x="204.3" y="1125.7" width="26.4" height="17.3" rx="0" stroke="#383838" stroke-width="1.1" fill="none"/>
<rect x="205" y="1143" width="24.3" height="3.5" rx="0" stroke="#383838" stroke-width="1.1" fill="none"/>
<line x1="160.3" y1="956" x2="271.4" y2="956" stroke="#383838" stroke-width="1.1"/>
<path d="M160.3 956L166.5 953.3L166.5 958.7Z" fill="#222"/>
<path d="M271.4 956L265.2 958.7L265.2 953.3Z" fill="#222"/>
<text x="217" y="952.93" font-family="Liberation Sans" font-size="12.3" text-anchor="middle" fill="#4a4a4a" font-weight="normal" textLength="19" lengthAdjust="spacingAndGlyphs">179</text>
<line x1="160.3" y1="950" x2="160.3" y2="966.5" stroke="#383838" stroke-width="1.1"/>
<line x1="271.4" y1="950" x2="271.4" y2="966.5" stroke="#383838" stroke-width="1.1"/>
<line x1="129.4" y1="966.5" x2="129.4" y2="1145.8" stroke="#383838" stroke-width="1.1"/>
<path d="M129.4 966.5L132.1 972.7L126.7 972.7Z" fill="#222"/>
<path d="M129.4 1145.8L126.7 1139.6L132.1 1139.6Z" fill="#222"/>
<g transform="translate(124.5 1056) rotate(-90)"><text x="0" y="4.43" font-family="Liberation Sans" font-size="12.3" text-anchor="middle" fill="#4a4a4a" textLength="19" lengthAdjust="spacingAndGlyphs">304</text></g>
<line x1="147" y1="966.5" x2="147" y2="1121.9" stroke="#383838" stroke-width="1.1"/>
<path d="M147 966.5L149.7 972.7L144.3 972.7Z" fill="#222"/>
<path d="M147 1121.9L144.3 1115.7L149.7 1115.7Z" fill="#222"/>
<g transform="translate(141.5 1042) rotate(-90)"><text x="0" y="4.43" font-family="Liberation Sans" font-size="12.3" text-anchor="middle" fill="#4a4a4a" textLength="19" lengthAdjust="spacingAndGlyphs">260</text></g>
<line x1="125" y1="966.5" x2="160.3" y2="966.5" stroke="#383838" stroke-width="1.1"/>
<line x1="143" y1="1121.9" x2="160.3" y2="1121.9" stroke="#383838" stroke-width="1.1"/>
<line x1="125" y1="1145.8" x2="205" y2="1145.8" stroke="#383838" stroke-width="1.1"/>
<rect x="418.7" y="966.6" width="74.9" height="154.4" rx="3" stroke="#383838" stroke-width="1.1" fill="none"/>
<line x1="474" y1="966.6" x2="474" y2="1121" stroke="#383838" stroke-width="1.1"/>
<rect x="427.6" y="979" width="46.4" height="10.5" rx="0" stroke="#383838" stroke-width="1.1" fill="none"/>
<rect x="418.7" y="981" width="8.9" height="6" rx="0" stroke="#383838" stroke-width="1.1" fill="none"/>
<rect x="427.6" y="1097.4" width="46.4" height="9.9" rx="0" stroke="#383838" stroke-width="1.1" fill="none"/>
<rect x="418.7" y="1099" width="8.9" height="6" rx="0" stroke="#383838" stroke-width="1.1" fill="none"/>
<rect x="493.6" y="976" width="9.9" height="43.5" rx="0" stroke="#383838" stroke-width="1.1" fill="none"/>
<rect x="493.6" y="1058" width="9.4" height="31.4" rx="0" stroke="#383838" stroke-width="1.1" fill="none"/>
<path d="M503 1066.8 H505.5 L511.4 1074 V1098.3 H503" stroke="#383838" stroke-width="1.1" fill="none"/>
<rect x="493.6" y="1089.4" width="3" height="11.6" rx="0" stroke="#383838" stroke-width="1.1" fill="none"/>
<rect x="435.5" y="1121" width="31.5" height="5" rx="0" stroke="#383838" stroke-width="1.1" fill="none"/>
<line x1="442" y1="1121" x2="442" y2="1126" stroke="#383838" stroke-width="0.8"/>
<line x1="446" y1="1121" x2="446" y2="1126" stroke="#383838" stroke-width="0.8"/>
<line x1="456" y1="1121" x2="456" y2="1126" stroke="#383838" stroke-width="0.8"/>
<line x1="460" y1="1121" x2="460" y2="1126" stroke="#383838" stroke-width="0.8"/>
<rect x="438.5" y="1126" width="26.5" height="17" rx="0" stroke="#383838" stroke-width="1.1" fill="none"/>
<rect x="440.4" y="1143" width="23.6" height="5" rx="0" stroke="#383838" stroke-width="1.1" fill="none"/>
<line x1="452.2" y1="1143" x2="452.2" y2="1148" stroke="#383838" stroke-width="0.9"/>
<line x1="418.7" y1="938.3" x2="510" y2="938.3" stroke="#383838" stroke-width="1.1"/>
<path d="M418.7 938.3L424.9 935.6L424.9 941Z" fill="#222"/>
<path d="M510 938.3L503.8 941L503.8 935.6Z" fill="#222"/>
<text x="466.6" y="936.23" font-family="Liberation Sans" font-size="12.3" text-anchor="middle" fill="#4a4a4a" font-weight="normal" textLength="19" lengthAdjust="spacingAndGlyphs">149</text>
<line x1="418.7" y1="958.8" x2="493.6" y2="958.8" stroke="#383838" stroke-width="1.1"/>
<path d="M418.7 958.8L424.9 956.1L424.9 961.5Z" fill="#222"/>
<path d="M493.6 958.8L487.4 961.5L487.4 956.1Z" fill="#222"/>
<text x="457.6" y="956.93" font-family="Liberation Sans" font-size="12.3" text-anchor="middle" fill="#4a4a4a" font-weight="normal" textLength="29" lengthAdjust="spacingAndGlyphs">119.5</text>
<line x1="418.7" y1="932" x2="418.7" y2="966.6" stroke="#383838" stroke-width="1.1"/>
<line x1="510" y1="932" x2="510" y2="1070.7" stroke="#383838" stroke-width="1.1"/>
<line x1="493.6" y1="952" x2="493.6" y2="966.6" stroke="#383838" stroke-width="1.1"/>
<rect x="694.3" y="966.6" width="101.7" height="154.4" rx="3.5" stroke="#383838" stroke-width="1.1" fill="none"/>
<line x1="699" y1="952.8" x2="789.6" y2="952.8" stroke="#383838" stroke-width="1.1"/>
<path d="M699 952.8L705.2 950.1L705.2 955.5Z" fill="#222"/>
<path d="M789.6 952.8L783.4 955.5L783.4 950.1Z" fill="#222"/>
<text x="747" y="950.43" font-family="Liberation Sans" font-size="12.3" text-anchor="middle" fill="#4a4a4a" font-weight="normal" textLength="19" lengthAdjust="spacingAndGlyphs">163</text>
<line x1="699" y1="946" x2="699" y2="966.6" stroke="#383838" stroke-width="1.1"/>
<line x1="789.6" y1="946" x2="789.6" y2="966.6" stroke="#383838" stroke-width="1.1"/>
<rect x="697" y="969.2" width="8.7" height="8.5" rx="0" stroke="#383838" stroke-width="1.4" fill="none"/>
<circle cx="701.35" cy="973.45" r="2.8" stroke="#383838" stroke-width="1.1" fill="none"/>
<rect x="782.2" y="969.7" width="10.3" height="7.8" rx="0" stroke="#383838" stroke-width="1.4" fill="none"/>
<circle cx="787.35" cy="973.6" r="2.8" stroke="#383838" stroke-width="1.1" fill="none"/>
<rect x="696.7" y="1109.2" width="10.8" height="8.3" rx="0" stroke="#383838" stroke-width="1.4" fill="none"/>
<circle cx="702.1" cy="1113.35" r="2.8" stroke="#383838" stroke-width="1.1" fill="none"/>
<rect x="783.3" y="1109.2" width="10.2" height="8.3" rx="0" stroke="#383838" stroke-width="1.4" fill="none"/>
<circle cx="788.4" cy="1113.35" r="2.8" stroke="#383838" stroke-width="1.1" fill="none"/>
<rect x="694.3" y="979" width="4.7" height="11" rx="0" stroke="#383838" stroke-width="0.8" fill="none"/>
<path d="M699 979 a5.2 5.2 0 0 1 0 10.4" stroke="#383838" stroke-width="1" fill="none"/>
<line x1="694.3" y1="981.5" x2="700" y2="981.5" stroke="#383838" stroke-width="0.7"/>
<line x1="694.3" y1="986.5" x2="700" y2="986.5" stroke="#383838" stroke-width="0.7"/>
<rect x="789.6" y="978.5" width="6.4" height="11.5" rx="0" stroke="#383838" stroke-width="0.8" fill="none"/>
<circle cx="789.6" cy="984" r="4" stroke="#383838" stroke-width="1.1" fill="none"/>
<line x1="780" y1="984" x2="802" y2="984" stroke="#383838" stroke-width="0.7"/>
<line x1="789.6" y1="977" x2="789.6" y2="991" stroke="#383838" stroke-width="0.7"/>
<line x1="682.4" y1="984" x2="682.4" y2="1102" stroke="#383838" stroke-width="1.1"/>
<path d="M682.4 984L685.1 990.2L679.7 990.2Z" fill="#222"/>
<path d="M682.4 1102L679.7 1095.8L685.1 1095.8Z" fill="#222"/>
<g transform="translate(675 1042) rotate(-90)"><text x="0" y="4.43" font-family="Liberation Sans" font-size="12.3" text-anchor="middle" fill="#4a4a4a" textLength="19" lengthAdjust="spacingAndGlyphs">200</text></g>
<line x1="679" y1="984" x2="711" y2="984" stroke="#383838" stroke-width="0.9"/>
<line x1="679" y1="1102" x2="711" y2="1102" stroke="#383838" stroke-width="0.9"/>
<path d="M696 1038 h10 v6 a5 5 0 0 1 -10 0 z" stroke="#383838" stroke-width="1" fill="none"/>
<path d="M782 1038 h10 v6 a5 5 0 0 1 -10 0 z" stroke="#383838" stroke-width="1" fill="none"/>
<line x1="779.6" y1="1020" x2="779.6" y2="1095" stroke="#383838" stroke-width="1"/>
<line x1="708" y1="1084" x2="757.4" y2="1084" stroke="#383838" stroke-width="1"/>
<line x1="699.6" y1="1076" x2="699.6" y2="1102" stroke="#383838" stroke-width="0.9"/>
<rect x="694.3" y="1096" width="4.7" height="12" rx="0" stroke="#383838" stroke-width="0.8" fill="none"/>
<path d="M699 1097 a5 5 0 0 1 0 10" stroke="#383838" stroke-width="1" fill="none"/>
<path d="M712 1098 a4 4 0 0 0 0 8" stroke="#383838" stroke-width="0.9" fill="none"/>
<line x1="694.3" y1="1099.5" x2="700" y2="1099.5" stroke="#383838" stroke-width="0.7"/>
<line x1="694.3" y1="1104.5" x2="700" y2="1104.5" stroke="#383838" stroke-width="0.7"/>
<path d="M789 1097 a5 5 0 0 0 0 10 h12 M789 1097 h12" stroke="#383838" stroke-width="0.9" fill="none"/>
<rect x="789.6" y="1096" width="6.4" height="12" rx="0" stroke="#383838" stroke-width="0.8" fill="none"/>
<line x1="810" y1="1080" x2="810" y2="1125" stroke="#383838" stroke-width="0.9"/>
<path d="M810 1099L807.3 1092.8L812.7 1092.8Z" fill="#222"/>
<path d="M810 1106L812.7 1112.2L807.3 1112.2Z" fill="#222"/>
<line x1="796" y1="1099" x2="815" y2="1099" stroke="#383838" stroke-width="0.7"/>
<line x1="796" y1="1106" x2="815" y2="1106" stroke="#383838" stroke-width="0.7"/>
<g transform="translate(804 1088) rotate(-90)"><text x="0" y="4.43" font-family="Liberation Sans" font-size="12.3" text-anchor="middle" fill="#4a4a4a">7</text></g>
<rect x="732.4" y="1121" width="31.6" height="5" rx="0" stroke="#383838" stroke-width="1.1" fill="none"/>
<line x1="738" y1="1121" x2="738" y2="1126" stroke="#383838" stroke-width="0.8"/>
<line x1="742" y1="1121" x2="742" y2="1126" stroke="#383838" stroke-width="0.8"/>
<line x1="754" y1="1121" x2="754" y2="1126" stroke="#383838" stroke-width="0.8"/>
<line x1="758" y1="1121" x2="758" y2="1126" stroke="#383838" stroke-width="0.8"/>
<rect x="734.4" y="1126" width="26.6" height="17" rx="0" stroke="#383838" stroke-width="1.1" fill="none"/>
<rect x="736" y="1143" width="24" height="5" rx="0" stroke="#383838" stroke-width="1.1" fill="none"/>
<line x1="748" y1="1143" x2="748" y2="1148" stroke="#383838" stroke-width="0.9"/>
<text x="217.3" y="1222.3" font-family="Liberation Serif" font-size="15" text-anchor="start" fill="#2a2a2a" font-weight="normal" textLength="264.4" lengthAdjust="spacingAndGlyphs">LCZ8030-A2B1K1G(二钮一表一开关)</text>
<text x="230" y="1238.6" font-family="Liberation Serif" font-size="15" text-anchor="start" fill="#2a2a2a" font-weight="normal" textLength="239.3" lengthAdjust="spacingAndGlyphs">(Two buttons one meter one switch)</text>
<text x="677" y="1231.1" font-family="Liberation Serif" font-size="15" text-anchor="start" fill="#2a2a2a" font-weight="normal" textLength="31" lengthAdjust="spacingAndGlyphs">挂式</text>
<text x="716.5" y="1231.1" font-family="Liberation Serif" font-size="15" text-anchor="start" fill="#2a2a2a" font-weight="normal" textLength="86.5" lengthAdjust="spacingAndGlyphs">Pendant type</text>
</svg>
</body></html>
